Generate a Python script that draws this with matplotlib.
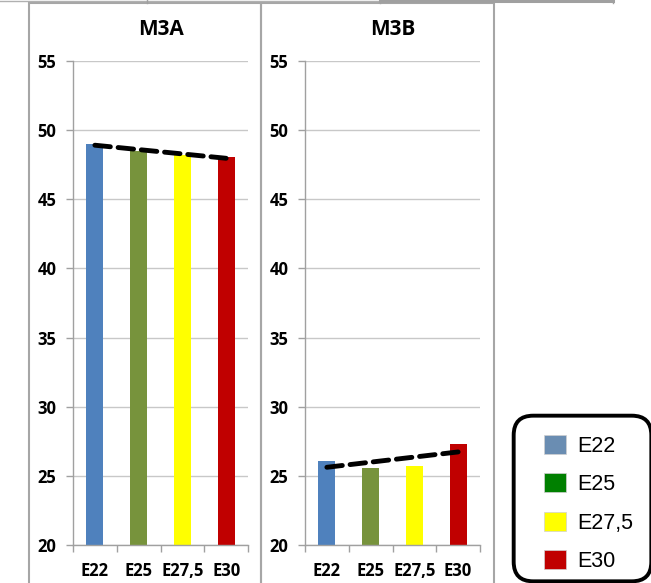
import numpy as np
import matplotlib.pyplot as plt
from matplotlib.patches import Patch, FancyBboxPatch, Rectangle
from matplotlib.lines import Line2D

# data
categories = ["E22", "E25", "E27,5", "E30"]
m3a_values = [49.0, 48.5, 48.2, 48.05]
m3b_values = [26.1, 25.6, 25.7, 27.3]
panel_titles = ["M3A", "M3B"]
y_ticks = [20, 25, 30, 35, 40, 45, 50, 55]

bar_colors = ["#4F81BD", "#77933C", "#FFFF00", "#C00000"]
legend_colors = ["#6A8DB2", "#008000", "#FFFF00", "#C00000"]

W, H = 651, 583
fig = plt.figure(figsize=(W / 100, H / 100), dpi=100)


def fx(px):
    return px / W


def fy(py):
    return 1 - py / H


# panel frames (chart areas) and bits of the chart above
frame_col = "#A6A6A6"
fig.add_artist(Rectangle((fx(29), fy(590)), fx(261) - fx(29), fy(3) - fy(590),
                         fill=False, ec=frame_col, lw=1.5, transform=fig.transFigure))
fig.add_artist(Rectangle((fx(261), fy(590)), fx(494) - fx(261), fy(3) - fy(590),
                         fill=False, ec=frame_col, lw=1.5, transform=fig.transFigure))
fig.add_artist(Line2D([0, fx(380)], [fy(0.7), fy(0.7)], color="#B0B0B0", lw=1.0,
                      transform=fig.transFigure))
fig.add_artist(Line2D([fx(380), fx(613)], [fy(0.8), fy(0.8)], color="#A0A0A0", lw=2.2,
                      transform=fig.transFigure))
for xp in (147, 380, 613):
    fig.add_artist(Line2D([fx(xp), fx(xp)], [fy(0), fy(2.5)], color="#A0A0A0", lw=1.0,
                          transform=fig.transFigure))

tick_font = dict(family="Open Sans", weight="bold", size=12)

for i, (vals, title) in enumerate(zip([m3a_values, m3b_values], panel_titles)):
    left = 73 if i == 0 else 305
    ax = fig.add_axes([fx(left), fy(545), fx(175), fy(61) - fy(545)])
    x = np.arange(len(categories))
    ax.bar(x, vals, width=0.39, color=bar_colors, zorder=2)

    # linear trend line
    k, b = np.polyfit(x, vals, 1)
    ax.plot([x[0], x[-1]], [b + k * x[0], b + k * x[-1]], color="black", lw=3.5,
            dashes=(3.2, 1.6), zorder=3, solid_capstyle="round", dash_capstyle="round")

    ax.set_xlim(-0.5, len(categories) - 0.5)
    ax.set_ylim(20, 55)
    ax.set_yticks(y_ticks)
    ax.set_yticklabels([str(t) for t in y_ticks], fontdict=tick_font)
    ax.set_xticks(x)
    ax.set_xticklabels(categories, fontdict=tick_font)
    ax.set_xticks(np.arange(len(categories) + 1) - 0.5, minor=True)
    ax.tick_params(axis="x", which="major", length=0, pad=12)
    ax.tick_params(axis="x", which="minor", length=5, color="#A0A0A0", width=1)
    ax.tick_params(axis="y", length=5, color="#A0A0A0", width=1, pad=7)
    ax.grid(axis="y", color="#C8C8C8", lw=1, zorder=0)
    for s in ("top", "right"):
        ax.spines[s].set_visible(False)
    for s in ("left", "bottom"):
        ax.spines[s].set_color("#A0A0A0")
        ax.spines[s].set_linewidth(1)
    ax.set_title(title, fontdict=dict(family="Open Sans", weight="bold", size=15), pad=19)

# legend box
fig.add_artist(FancyBboxPatch((fx(528), fy(567)), fx(637) - fx(528), fy(430) - fy(567),
                              boxstyle="round,pad=0.022,rounding_size=0.03",
                              fill=False, ec="black", lw=2.8,
                              transform=fig.transFigure, mutation_aspect=W / H))
handles = [Patch(facecolor=c, edgecolor="#D0D0D0", lw=0.5) for c in legend_colors]
fig.legend(handles, categories, loc="upper left", bbox_to_anchor=(fx(544), fy(435)),
           frameon=False, prop=dict(family="Liberation Sans", size=15.5),
           handlelength=1.0, handleheight=0.95, handletextpad=0.55, labelspacing=0.78,
           borderpad=0, borderaxespad=0)

fig.savefig("out.png", dpi=100)
